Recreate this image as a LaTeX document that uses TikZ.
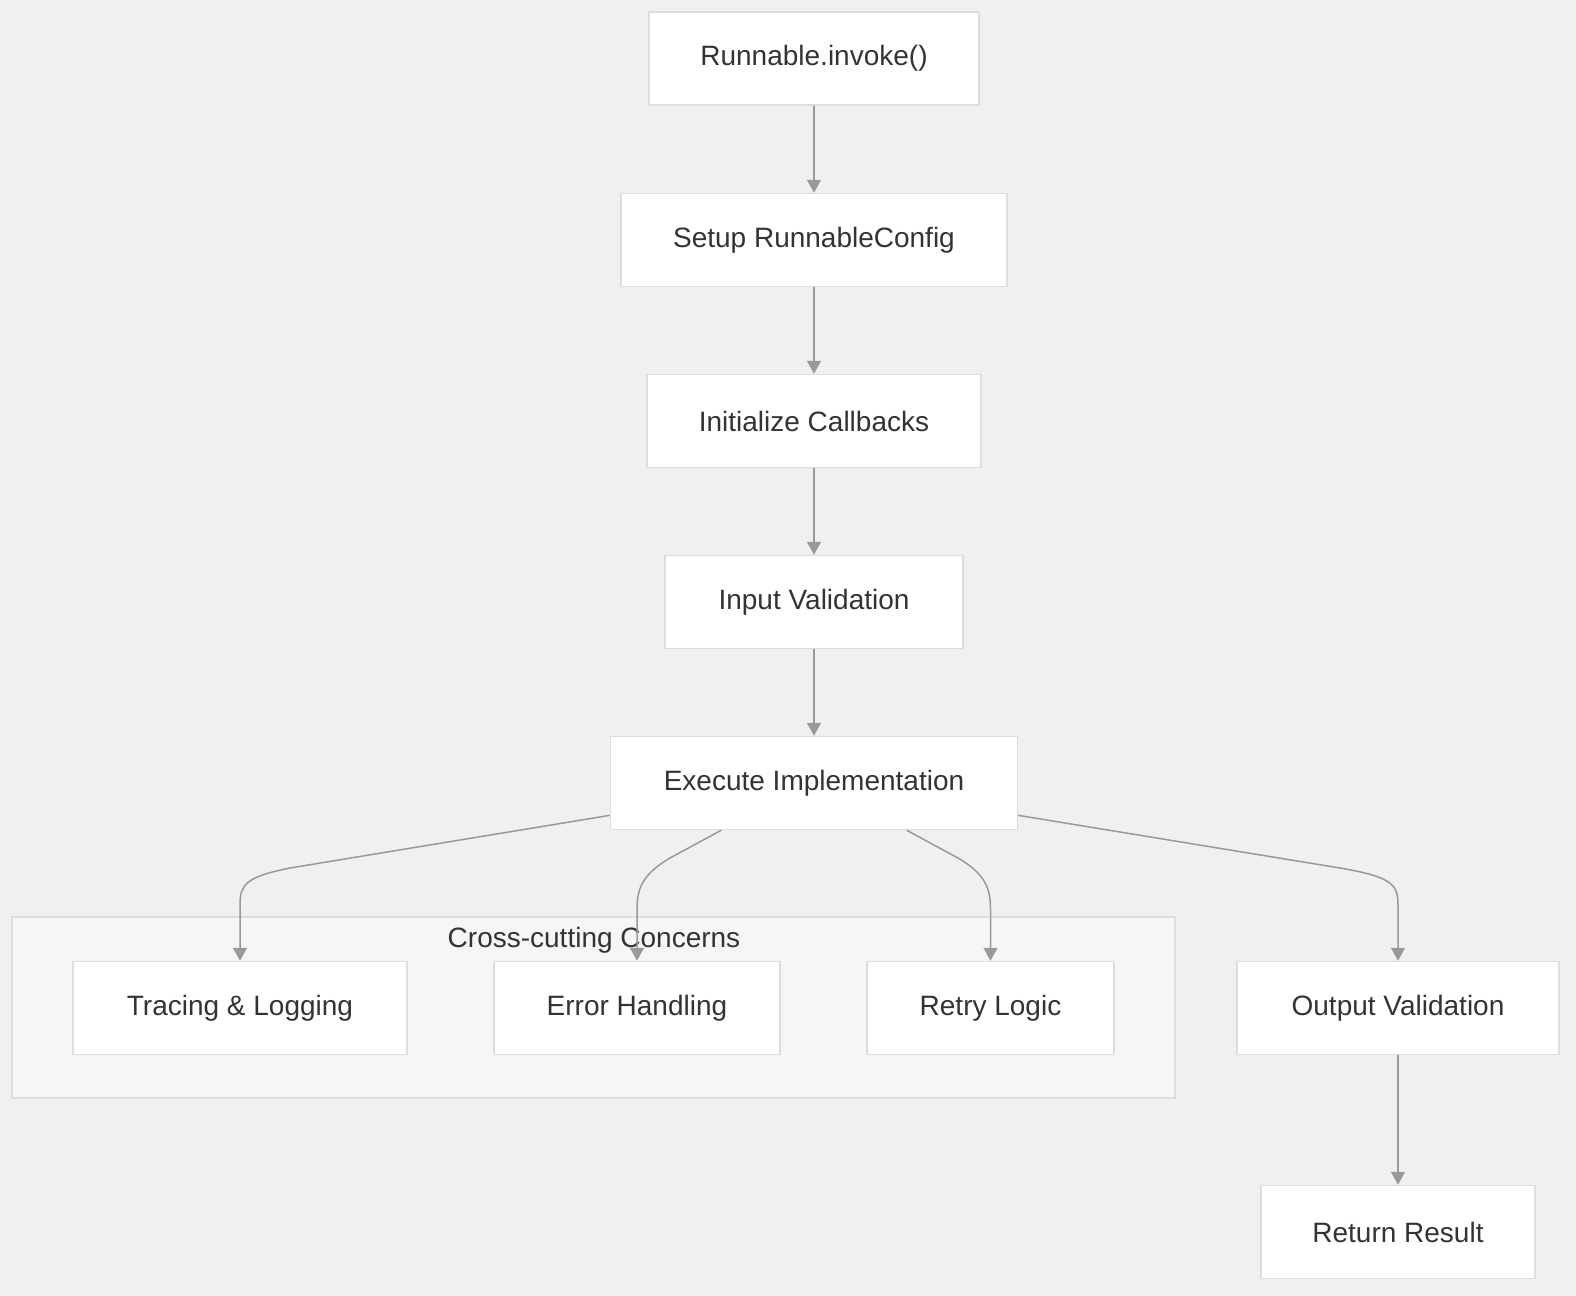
\documentclass[tikz,border=0pt]{standalone}
\usepackage{fontspec}
\setmainfont{Liberation Sans}
\usetikzlibrary{arrows.meta}

\definecolor{bgcol}{RGB}{241,240,238}
\definecolor{clustercol}{RGB}{246,246,246}
\definecolor{edgecol}{RGB}{221,221,221}
\definecolor{linkcol}{RGB}{153,153,153}
\definecolor{textcol}{RGB}{51,51,51}

\tikzset{every picture/.style={line width=0.75pt}}
\tikzset{
  stepbox/.style={draw=edgecol, fill=white, line width=0.75pt, minimum height=46.5pt,
    inner sep=0pt, font=\fontsize{14}{16}\selectfont, text=textcol},
  link/.style={draw=linkcol, line width=0.75pt, -{Triangle[length=6.5pt,width=7pt]}}
}

\begin{document}
\begin{tikzpicture}[x=0.5pt,y=0.5pt,yscale=-1,xscale=1]
	%set diagram size 1576 x 1296
	\fill [bgcol] (0,0) rectangle (1576,1296);
	\useasboundingbox (0,0) rectangle (1576,1296);

	%Shape: Cluster
	\draw [draw=edgecol, fill=clustercol, line width=0.75pt] (12,917) rectangle (1175,1098);
	\node [text=textcol, font=\fontsize{14}{16}\selectfont] (cluster) at (594,940) {Cross-cutting Concerns};

	% Step Nodes
	\node [stepbox, minimum width=165pt] (invoke) at (814,58.5) {Runnable.invoke()};
	\node [stepbox, minimum width=193pt] (setup) at (814,240) {Setup RunnableConfig};
	\node [stepbox, minimum width=167pt] (callbacks) at (814,421) {Initialize Callbacks};
	\node [stepbox, minimum width=149pt] (input) at (814,602) {Input Validation};
	\node [stepbox, minimum width=203.5pt] (exec) at (814,783) {Execute Implementation};
	\node [stepbox, minimum width=167pt] (trace) at (240,1008) {Tracing \& Logging};
	\node [stepbox, minimum width=143pt] (error) at (637,1008) {Error Handling};
	\node [stepbox, minimum width=123.5pt] (retry) at (990.5,1008) {Retry Logic};
	\node [stepbox, minimum width=161pt] (output) at (1398,1008) {Output Validation};
	\node [stepbox, minimum width=137pt] (result) at (1398,1232) {Return Result};

	% Straight Links
	\draw [link] (invoke) -- (setup);
	\draw [link] (setup) -- (callbacks);
	\draw [link] (callbacks) -- (input);
	\draw [link] (input) -- (exec);
	\draw [link] (output) -- (result);

	% Curved Links
	\draw [link] (exec.189) -- (290,868) .. controls (245,877) and (240,885) .. (240,905) -- (trace.north);
	\draw [link] (exec.207) -- (670,858) .. controls (641,875) and (637,890) .. (637,910) -- (error.north);
	\draw [link] (exec.333) -- (958,858) .. controls (987,875) and (990.5,890) .. (990.5,910) -- (retry.north);
	\draw [link] (exec.351) -- (1340,868) .. controls (1393,877) and (1398,885) .. (1398,905) -- (output.north);

\end{tikzpicture}
\end{document}
